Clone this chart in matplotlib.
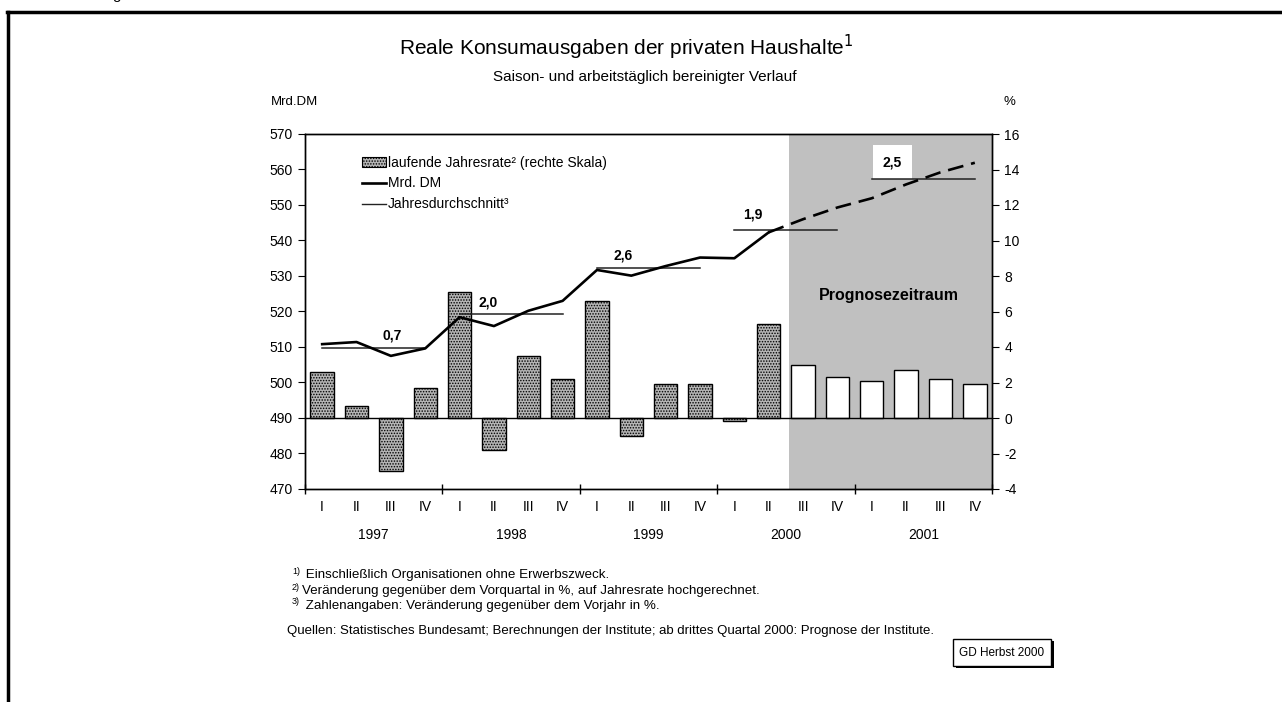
import numpy as np
import matplotlib.pyplot as plt
from matplotlib.patches import Patch, Rectangle
from matplotlib.lines import Line2D
import matplotlib.transforms as mtransforms

plt.rcParams['font.family'] = ['Liberation Sans', 'DejaVu Sans']
plt.rcParams['hatch.linewidth'] = 0.7
plt.rcParams['hatch.color'] = '#505050'

# data
quarters = ['I', 'II', 'III', 'IV'] * 5
years = ['1997', '1998', '1999', '2000', '2001']
# laufende Jahresrate (rechte Skala, %)
rate = [2.6, 0.7, -3.0, 1.7, 7.1, -1.8, 3.5, 2.2, 6.6, -1.0,
        1.9, 1.9, -0.15, 5.3, 3.0, 2.3, 2.1, 2.7, 2.2, 1.9]
# Mrd. DM (linke Skala)
level = [510.8, 511.4, 507.5, 509.6, 518.4, 515.9, 520.2, 523.0, 531.7, 530.1,
         532.8, 535.2, 535.0, 542.3, 546.0, 549.3, 551.9, 555.8, 559.2, 561.9]
# Jahresdurchschnitt (Niveau) und Veraenderung gegenueber Vorjahr
year_avg = [509.8, 519.4, 532.3, 543.0, 557.2]
year_chg = ['0,7', '2,0', '2,6', '1,9', '2,5']
n_actual = 14  # bis 2000 II Ist-Werte

x = np.arange(len(rate)) + 0.5

fig = plt.figure(figsize=(12.82, 7.02), dpi=100)

def fx(px):
    return px / 1282

def fy(py):
    return 1 - py / 702

# frame lines of the page
fig.add_artist(Line2D([fx(7), 1.0], [fy(12), fy(12)], color='black', lw=2.5))
fig.add_artist(Line2D([fx(8), fx(8)], [0, fy(12)], color='black', lw=2.5))
fig.text(fx(112), fy(-1.5), 'g', fontsize=11, ha='left', va='baseline')

ax2 = fig.add_axes([fx(305), fy(489), 687 / 1282, 355 / 702])
ax = ax2.twinx()
ax.yaxis.tick_left()
ax2.yaxis.tick_right()
ax.set_zorder(ax2.get_zorder() + 1)
ax.patch.set_visible(False)

# Prognosezeitraum
ax2.axvspan(n_actual + 0.1, 20, color='#c0c0c0', lw=0, zorder=0)
trans = mtransforms.blended_transform_factory(ax2.transData, ax2.transAxes)
ax2.text(17.0, 0.545, 'Prognosezeitraum', transform=trans,
         ha='center', va='center', fontsize=11.5, fontweight='bold')

bar_w = 0.68
ax2.bar(x[:n_actual], rate[:n_actual], width=bar_w, facecolor='#b4b4b4', edgecolor='black',
        hatch='......', lw=1.0, zorder=2)
ax2.bar(x[n_actual:], rate[n_actual:], width=bar_w, facecolor='white', edgecolor='black',
        lw=1.0, zorder=2)
ax2.axhline(0, color='black', lw=1.0, zorder=3)

ax2.set_ylim(-4, 16)
ax2.set_yticks(np.arange(-4, 17, 2))
ax2.set_yticklabels([str(v) for v in range(-4, 17, 2)])
ax.set_ylim(470, 570)
ax.set_yticks(np.arange(470, 571, 10))
ax.set_xlim(0, 20)
ax2.set_xlim(0, 20)

# line Mrd. DM
ax.plot(x[:n_actual], level[:n_actual], color='black', lw=1.9, zorder=5)
ax.plot(x[n_actual - 1:], level[n_actual - 1:], color='black', lw=1.9, ls=(0, (6, 3)), zorder=5)

# annual averages and labels
label_x = [2.55, 5.33, 9.25, 13.05, 17.1]
label_dy = [9, 8, 8.6, 10.8, 12.5]
for i, (avg, chg) in enumerate(zip(year_avg, year_chg)):
    ax.plot([x[4 * i], x[4 * i + 3]], [avg, avg], color='#222222', lw=1.1, zorder=4)
    box = dict(boxstyle='square,pad=0.7', fc='white', ec='none') if i == 4 else None
    ax.annotate(chg, (label_x[i], avg), xytext=(0, label_dy[i]), textcoords='offset points',
                ha='center', va='center', fontsize=10, fontweight='bold', bbox=box)

# axes styling
for a in (ax, ax2):
    for s in a.spines.values():
        s.set_linewidth(1.0)
ax.tick_params(axis='y', direction='out', length=5, labelsize=10, pad=4)
ax2.tick_params(axis='y', direction='out', length=5, labelsize=10, pad=4)
ax.set_xticks([])
ax2.set_xticks(np.arange(0, 21, 4))
ax2.set_xticklabels([])
ax2.set_xticks(x, minor=True)
ax2.set_xticklabels(quarters, minor=True)
ax2.tick_params(axis='x', which='major', direction='inout', length=7, width=1)
ax2.tick_params(axis='x', which='minor', length=0, labelsize=10, pad=8)

for i, yr in enumerate(years):
    ax2.text(4 * i + 2, -0.13, yr, transform=trans, ha='center', va='center', fontsize=10)

fig.text(fx(271), fy(102), 'Mrd.DM', fontsize=9.5, ha='left', va='center')
fig.text(fx(1004), fy(102), '%', fontsize=9.5, ha='left', va='center')

# legend
handles = [Patch(facecolor='#b4b4b4', edgecolor='black', hatch='......', lw=0.8),
           Line2D([], [], color='black', lw=1.9),
           Line2D([], [], color='#222222', lw=1.0)]
labels = ['laufende Jahresrate² (rechte Skala)', 'Mrd. DM', 'Jahresdurchschnitt³']
ax.legend(handles, labels, loc='upper left', bbox_to_anchor=(0.075, 0.955), frameon=False,
          fontsize=10, handlelength=1.7, handletextpad=0.15, labelspacing=0.5, borderaxespad=0)

# titles
fig.text(fx(626), fy(47), 'Reale Konsumausgaben der privaten Haushalte$^{1}$', ha='center', va='center', fontsize=15)
fig.text(fx(645), fy(77), 'Saison- und arbeitstäglich bereinigter Verlauf', ha='center', va='center', fontsize=11)

# footnotes
notes = [('1)', ' Einschließlich Organisationen ohne Erwerbszweck.', 575),
         ('2)', 'Veränderung gegenüber dem Vorquartal in %, auf Jahresrate hochgerechnet.', 591),
         ('3)', ' Zahlenangaben: Veränderung gegenüber dem Vorjahr in %.', 606)]
for sup, txt, py in notes:
    fig.text(fx(292), fy(py - 4), sup, fontsize=6.5, va='center')
    fig.text(fx(302), fy(py), txt, fontsize=9.6, va='center')
fig.text(fx(287), fy(631), 'Quellen: Statistisches Bundesamt; Berechnungen der Institute; ab drittes Quartal 2000: Prognose der Institute.',
         fontsize=9.5, va='center')

# GD Herbst box with shadow
fig.add_artist(Rectangle((fx(956), fy(668)), 98 / 1282, 27 / 702, transform=fig.transFigure,
                         fc='black', ec='black', lw=0))
fig.add_artist(Rectangle((fx(953), fy(666)), 98 / 1282, 27 / 702, transform=fig.transFigure,
                         fc='white', ec='black', lw=1))
fig.text(fx(1002), fy(652.5), 'GD Herbst 2000', fontsize=8.5, ha='center', va='center')

fig.savefig('out.png', dpi=100)
